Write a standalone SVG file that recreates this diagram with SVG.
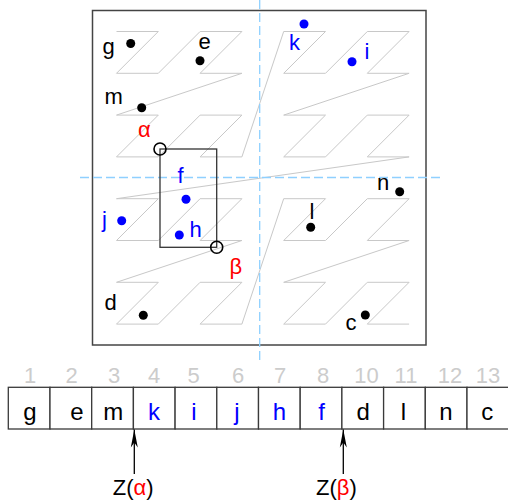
<svg xmlns="http://www.w3.org/2000/svg" width="508" height="504" viewBox="0 0 508 504">
<defs>
<style>
text{font-family:"Liberation Sans",Arial,sans-serif;}
.lbl{font-size:22px;fill:#000;}
.clet{font-size:24px;text-anchor:middle;fill:#000;}
.num{font-size:22px;fill:#cccccc;text-anchor:middle;}
text.blue{fill:#0000ff;}
.red{fill:#ff0000;}
.dot{fill:#000;}
.bdot{fill:#0000ff;}
.ring{fill:none;stroke:#000;stroke-width:1.6;}
.curve{fill:none;stroke:#c8c8c8;stroke-width:1;}
.dash{stroke:#8fd0ff;stroke-width:1.3;stroke-dasharray:9,4;fill:none;}
.cell{fill:#fff;stroke:#3a3a3a;stroke-width:1.3;}
.arr{stroke:#000;stroke-width:1.3;fill:none;}
</style>
<marker id="ah" markerUnits="userSpaceOnUse" markerWidth="20" markerHeight="10" refX="18" refY="4" orient="auto" viewBox="0 0 20 8">
<path d="M0,0.5 L18,4 L0,7.5 L5,4 z" fill="#000"/>
</marker>
</defs>
<rect width="508" height="504" fill="#fff"/>
<rect id="frame" x="92.5" y="10.5" width="333.5" height="334.5" fill="none" stroke="#444" stroke-width="1.5"/>
<polyline class="curve" points="116.5,31.5 158.3,31.5 116.5,73.3 158.3,73.3 200.1,31.5 241.9,31.5 200.1,73.3 241.9,73.3 116.5,115.1 158.3,115.1 116.5,156.9 158.3,156.9 200.1,115.1 241.9,115.1 200.1,156.9 241.9,156.9 283.7,31.5 325.5,31.5 283.7,73.3 325.5,73.3 367.3,31.5 409.1,31.5 367.3,73.3 409.1,73.3 283.7,115.1 325.5,115.1 283.7,156.9 325.5,156.9 367.3,115.1 409.1,115.1 367.3,156.9 409.1,156.9 116.5,198.7 158.3,198.7 116.5,240.5 158.3,240.5 200.1,198.7 241.9,198.7 200.1,240.5 241.9,240.5 116.5,282.3 158.3,282.3 116.5,324.1 158.3,324.1 200.1,282.3 241.9,282.3 200.1,324.1 241.9,324.1 283.7,198.7 325.5,198.7 283.7,240.5 325.5,240.5 367.3,198.7 409.1,198.7 367.3,240.5 409.1,240.5 283.7,282.3 325.5,282.3 283.7,324.1 325.5,324.1 367.3,282.3 409.1,282.3 367.3,324.1 409.1,324.1"/>
<line class="dash" x1="259.7" y1="0" x2="259.7" y2="360"/>
<line class="dash" x1="80" y1="177.5" x2="440" y2="177.5"/>
<rect id="query" x="160" y="149" width="56.7" height="98.3" fill="none" stroke="#333" stroke-width="1.3"/>
<g id="g"><circle class="dot" cx="130.7" cy="43.5" r="4.5"/><text class="lbl" x="102.5" y="54">g</text></g>
<g id="e"><circle class="dot" cx="200" cy="60.7" r="4.5"/><text class="lbl" x="198.5" y="49">e</text></g>
<g id="m"><circle class="dot" cx="141.7" cy="107.7" r="4.5"/><text class="lbl" x="104.5" y="104">m</text></g>
<g id="k"><circle class="bdot" cx="304" cy="24" r="4.5"/><text class="lbl blue" x="289" y="50">k</text></g>
<g id="i"><circle class="bdot" cx="352" cy="61.7" r="4.5"/><text class="lbl blue" x="364.5" y="59">i</text></g>
<g id="f"><circle class="bdot" cx="186" cy="199.3" r="4.5"/><text class="lbl blue" x="177.5" y="182.5">f</text></g>
<g id="h"><circle class="bdot" cx="179.3" cy="235" r="4.5"/><text class="lbl blue" x="189.5" y="236.5">h</text></g>
<g id="j"><circle class="bdot" cx="121.7" cy="220.7" r="4.5"/><text class="lbl blue" x="102" y="226.5">j</text></g>
<g id="d"><circle class="dot" cx="143.3" cy="315.3" r="4.5"/><text class="lbl" x="104.5" y="310">d</text></g>
<g id="n"><circle class="dot" cx="399.7" cy="191.7" r="4.5"/><text class="lbl" x="377" y="190">n</text></g>
<g id="l"><circle class="dot" cx="310.7" cy="227.3" r="4.5"/><text class="lbl" x="309.5" y="219">l</text></g>
<g id="c"><circle class="dot" cx="365.3" cy="315" r="4.5"/><text class="lbl" x="345.5" y="330">c</text></g>
<g id="alpha"><circle class="ring" cx="160" cy="149" r="6"/><text class="lbl red" x="138" y="136.5">α</text></g>
<g id="beta"><circle class="ring" cx="216.7" cy="247.3" r="6"/><text class="lbl red" x="229.5" y="274">β</text></g>
<g id="array">
<rect class="cell" x="8.3" y="387.3" width="41.7" height="41.7"/>
<rect class="cell" x="50" y="387.3" width="41.7" height="41.7"/>
<rect class="cell" x="91.7" y="387.3" width="41.7" height="41.7"/>
<rect class="cell" x="133.4" y="387.3" width="41.7" height="41.7"/>
<rect class="cell" x="175.1" y="387.3" width="41.7" height="41.7"/>
<rect class="cell" x="216.8" y="387.3" width="41.7" height="41.7"/>
<rect class="cell" x="258.5" y="387.3" width="41.7" height="41.7"/>
<rect class="cell" x="300.2" y="387.3" width="41.7" height="41.7"/>
<rect class="cell" x="341.9" y="387.3" width="41.7" height="41.7"/>
<rect class="cell" x="383.6" y="387.3" width="41.7" height="41.7"/>
<rect class="cell" x="425.3" y="387.3" width="41.7" height="41.7"/>
<rect class="cell" x="467" y="387.3" width="41.7" height="41.7"/>
<text class="num" x="30" y="382.5">1</text>
<text class="num" x="71.7" y="382.5">2</text>
<text class="num" x="114" y="382.5">3</text>
<text class="num" x="154" y="382.5">4</text>
<text class="num" x="193.5" y="382.5">5</text>
<text class="num" x="238" y="382.5">6</text>
<text class="num" x="280" y="382.5">7</text>
<text class="num" x="323" y="382.5">8</text>
<text class="num" x="366.5" y="382.5">10</text>
<text class="num" x="406" y="382.5">11</text>
<text class="num" x="450" y="382.5">12</text>
<text class="num" x="488" y="382.5">13</text>
<text class="clet" x="30" y="419.5">g</text>
<text class="clet" x="77" y="419.5">e</text>
<text class="clet" x="113.3" y="419.5">m</text>
<text class="clet blue" x="154" y="419.5">k</text>
<text class="clet blue" x="194" y="419.5">i</text>
<text class="clet blue" x="237" y="419.5">j</text>
<text class="clet blue" x="279.5" y="419.5">h</text>
<text class="clet blue" x="321.7" y="419.5">f</text>
<text class="clet" x="363.3" y="419.5">d</text>
<text class="clet" x="403.5" y="419.5">l</text>
<text class="clet" x="446" y="419.5">n</text>
<text class="clet" x="487.3" y="419.5">c</text>
</g>
<g id="connectors">
<line class="arr" x1="134.3" y1="474" x2="134.3" y2="429.5" marker-end="url(#ah)"/>
<line class="arr" x1="343.3" y1="474" x2="343.3" y2="429.5" marker-end="url(#ah)"/>
</g>
<g id="za"><text class="lbl" x="112.7" y="495">Z(<tspan class="red">α</tspan>)</text></g>
<g id="zb"><text class="lbl" x="316" y="495">Z(<tspan class="red">β</tspan>)</text></g>
</svg>
